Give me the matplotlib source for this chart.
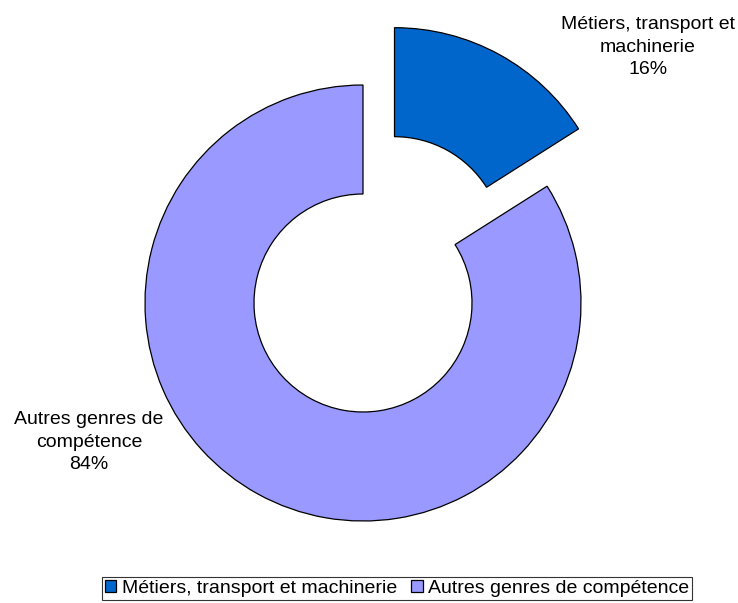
import matplotlib.pyplot as plt

plt.rcParams['font.family'] = ['Liberation Sans', 'DejaVu Sans']

categories = ['Métiers, transport et machinerie', 'Autres genres de compétence']
label_lines = ['Métiers, transport et\nmachinerie', 'Autres genres de\ncompétence']
shares = [16, 84]
colors = ['#0066CC', '#9999FF']
explode = [0.3, 0.0]


def draw_donut():
    fig = plt.figure(figsize=(7.38, 6.03), dpi=100)
    ax = fig.add_axes([0, 0, 1, 1])
    wedges, _ = ax.pie(shares, colors=colors, startangle=90, counterclock=False,
                       explode=explode, radius=1.0,
                       wedgeprops=dict(width=0.5, edgecolor='black', linewidth=0.9))
    ax.set_xlim(-363 / 218, 375 / 218)
    ax.set_ylim(-300 / 218, 303 / 218)
    ax.set_aspect('auto')
    ax.axis('off')

    # Data labels (Excel style, outside the ring)
    label_pos = [(1.307, 1.174), (-1.257, -0.638)]
    for text, val, (x, y) in zip(label_lines, shares, label_pos):
        ax.text(x, y, f'{text}\n{val}%', ha='center', va='center', fontsize=14,
                linespacing=1.4)

    leg = fig.legend(wedges, categories, loc='upper center',
                     bbox_to_anchor=(397 / 738, 1 - 577 / 603), ncol=2,
                     fontsize=14, frameon=True, fancybox=False,
                     handlelength=0.6, handleheight=0.6, handletextpad=0.3,
                     columnspacing=0.7, borderpad=0.15, borderaxespad=0)
    leg.get_frame().set_edgecolor('black')
    leg.get_frame().set_linewidth(0.8)
    fig.savefig('out.png', dpi=100)


draw_donut()
